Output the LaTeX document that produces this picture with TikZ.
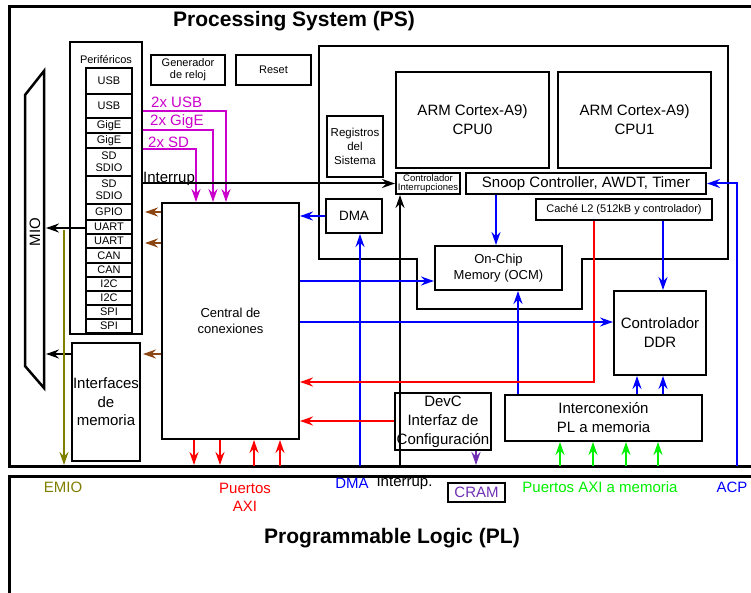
\documentclass[tikz,border=0pt]{standalone}
\usepackage{fontspec}
\setmainfont{Liberation Sans}
\usetikzlibrary{arrows.meta,calc}
\definecolor{blu}{RGB}{0,0,255}
\definecolor{rd}{RGB}{255,0,0}
\definecolor{grn}{RGB}{0,240,0}
\definecolor{mag}{RGB}{204,0,204}
\definecolor{brn}{RGB}{140,70,20}
\definecolor{olv}{RGB}{128,128,0}
\definecolor{pur}{RGB}{112,48,180}
\newcommand\fzT{\fontsize{21}{25}\selectfont\bfseries}
\newcommand\fzM{\fontsize{15}{19}\selectfont}
\newcommand\fzC{\fontsize{13}{16}\selectfont}
\newcommand\fzS{\fontsize{11}{12}\selectfont}
\newcommand\fzX{\fontsize{9.5}{9}\selectfont}
\begin{document}
\begin{tikzpicture}[x=1pt,y=-1pt,
  bx/.style={draw,line width=2pt,fill=white,inner sep=0pt,align=center},
  cell/.style={bx,minimum width=46pt,font=\fzS},
  arr/.style={line width=2pt,-{Stealth[length=13pt,width=9pt,inset=4.5pt]}},
  lbl/.style={inner sep=0pt,align=center,font=\fzM}]
\useasboundingbox (0,0) rectangle (751,593);
\clip (0,0) rectangle (751,593);
\fill[white] (0,0) rectangle (751,593);
% frames
\draw[line width=3pt] (765,7) -- (9,7) -- (9,466) -- (765,466);
\draw[line width=3pt] (765,476) -- (9,476) -- (9,605);
\node[lbl,font=\fzT] (pstitle) at (294,21) {Processing System (PS)};
\node[lbl,font=\fzT] (pltitle) at (392,538) {Programmable Logic (PL)};
% CPU region
\draw[line width=2pt] (319,46) -- (728,46) -- (728,259) -- (582,259) -- (582,309) -- (417,309) -- (417,259) -- (319,259) -- cycle;
% MIO
\draw[line width=2.5pt] (25,95) -- (44,71) -- (44,388) -- (25,366) -- cycle;
\node[lbl,rotate=90,font=\fzM] (mio) at (35,232) {MIO};
% peripherals
\node[bx,minimum width=72pt,minimum height=292pt] (peri) at (106,188) {};
\node[lbl,font=\fzS] (perilbl) at (106,60) {Periféricos};
\foreach \n/\ya/\yb/\t in {1/68/94/USB,2/94/118/USB,3/118/133/GigE,4/133/148/GigE,5/148/176/{SD\\SDIO},6/176/204/{SD\\SDIO},7/204/220/GPIO,8/220/234/UART,9/234/248/UART,10/248/263/CAN,11/263/277/CAN,12/277/291/I2C,13/291/305/I2C,14/305/319/SPI,15/319/333/SPI}
  \node[cell,minimum height={\yb-\ya}] (c\n) at (109,{(\ya+\yb)/2}) {\t};
% boxes
\node[bx,font=\fzS,minimum width=74pt,minimum height=30pt] (gen) at (188,70) {Generador\\de reloj};
\node[bx,font=\fzS,minimum width=75pt,minimum height=30pt] (reset) at (273.5,70) {Reset};
\node[bx,font=\fontsize{11.5}{14}\selectfont,minimum width=56pt,minimum height=61pt] (reg) at (355,146.5) {Registros\\del\\Sistema};
\node[bx,font=\fzM,minimum width=153pt,minimum height=96pt] (cpu0) at (472.5,120) {ARM Cortex-A9)\\CPU0};
\node[bx,font=\fzM,minimum width=153pt,minimum height=96pt] (cpu1) at (634.5,120) {ARM Cortex-A9)\\CPU1};
\node[bx,font=\fzX,minimum width=64pt,minimum height=21pt] (ci) at (428,183.5) {Controlador\\Interrupciones};
\node[bx,font=\fzM,minimum width=240pt,minimum height=21pt] (snoop) at (586,183.5) {Snoop Controller, AWDT, Timer};
\node[bx,font=\fzS,minimum width=176pt,minimum height=21pt] (cache) at (624,209.5) {Caché L2 (512kB y controlador)};
\node[bx,font=\fontsize{13.5}{16}\selectfont,minimum width=56pt,minimum height=34pt] (dma) at (354,216) {DMA};
\node[bx,font=\fzC,minimum width=137pt,minimum height=236pt] (central) at (230.5,321) {Central de\\conexiones};
\node[bx,font=\fontsize{15}{18.5}\selectfont,minimum width=68pt,minimum height=118pt] (iface) at (106,402) {Interfaces\\de\\memoria};
\node[bx,font=\fzC,minimum width=127pt,minimum height=44pt] (ocm) at (498.5,268) {On-Chip\\Memory (OCM)};
\node[bx,font=\fzM,minimum width=92pt,minimum height=84pt] (ddr) at (660,333) {Controlador\\DDR};
\node[bx,font=\fzM,minimum width=197pt,minimum height=46pt] (ipl) at (603.5,418) {Interconexión\\PL a memoria};
\node[bx,font=\fzM,minimum width=96pt,minimum height=57pt] (devc) at (443,421.5) {DevC\\Interfaz de\\Configuración};
\node[bx,font=\fzM,text=pur,minimum width=57pt,minimum height=19pt] (cram) at (476.5,492.5) {CRAM};
% labels
\node[lbl,text=mag,anchor=west] (lusb) at (151,102) {2x USB};
\node[lbl,text=mag,anchor=west] (lgig) at (150,122) {2x GigE};
\node[lbl,text=mag,anchor=west] (lsd) at (148,142) {2x SD};
\node[lbl,anchor=west] (lint) at (143,179) {Interrup};
\node[lbl,text=olv] (lemio) at (63,487) {EMIO};
\node[lbl,text=rd,font=\fontsize{15}{18}\selectfont] (laxi) at (245,497) {Puertos\\AXI};
\node[lbl,text=blu] (ldma) at (352,483) {DMA};
\node[lbl] (lintb) at (404.5,483) {Interrup.};
\node[lbl,text=grn] (lpam) at (600,487) {Puertos AXI a memoria};
\node[lbl,text=blu] (lacp) at (732,487) {ACP};
% coordinates
\coordinate (pr) at ($(peri.east)+(2,0)$);
\coordinate (ir) at ($(iface.east)+(2,0)$);
\coordinate (mioA) at (46,228);
\coordinate (mioB) at (46,354);
\coordinate (emioT) at (64,230);
\coordinate (emioB) at (64,465);
\coordinate (mU) at (226,0);
\coordinate (mG) at (213,0);
\coordinate (mS) at (196,0);
\coordinate (dmaP) at (360,466);
\coordinate (intP) at (400,466);
\coordinate (sx) at (496,0);
\coordinate (ox) at (518,0);
\coordinate (cx) at (663,0);
\coordinate (dx) at (637,0);
\coordinate (rx) at (594,382);
\coordinate (o1) at (0,281);
\coordinate (d1) at (0,322);
\coordinate (dv) at (0,421);
\coordinate (pv) at (476,465);
\coordinate (acp) at (737,466);
% connectors
\draw[arr] (c8.west |- mioA) -- (mioA);
\draw[arr] (iface.west |- mioB) -- (mioB);
\draw[arr,olv] (emioT) -- (emioB);
\draw[arr,brn] (central.west |- 0,212) -- (pr |- 0,212);
\draw[arr,brn] (central.west |- 0,243) -- (pr |- 0,243);
\draw[arr,brn] (central.west |- 0,354) -- (ir |- 0,354);
\draw[arr,mag] (peri.east |- 0,111) -| (mU |- central.north);
\draw[arr,mag] (peri.east |- 0,130) -| (mG |- central.north);
\draw[arr,mag] (peri.east |- 0,149) -| (mS |- central.north);
\draw[arr] (peri.east |- ci.west) -- (ci.west);
\draw[arr,blu] (dma.west) -- (central.east |- dma.west);
\draw[arr,blu] (dmaP) -- (dmaP |- dma.south);
\draw[arr] (intP) -- (intP |- ci.south);
\draw[arr,blu] (sx |- snoop.south) -- (sx |- ocm.north);
\draw[arr,blu] (ox |- ipl.north) -- (ox |- ocm.south);
\draw[arr,blu] (cx |- cache.south) -- (cx |- ddr.north);
\draw[arr,rd] (rx |- cache.south) -- (rx) -- (central.east |- rx);
\draw[arr,blu] (central.east |- o1) -- (ocm.west |- o1);
\draw[arr,blu] (central.east |- d1) -- (ddr.west |- d1);
\draw[arr,rd] (devc.west |- dv) -- (central.east |- dv);
\draw[arr,blu] (dx |- ipl.north) -- (dx |- ddr.south);
\draw[arr,blu] (cx |- ipl.north) -- (cx |- ddr.south);
\foreach \x in {560,593,626,658} {
  \coordinate (g\x) at (\x,466);
  \draw[arr,grn] (g\x) -- (g\x |- ipl.south);
}
\foreach \x in {194,220} {
  \coordinate (r\x) at (\x,465);
  \draw[arr,rd] (r\x |- central.south) -- (r\x);
}
\foreach \x in {254,280} {
  \coordinate (r\x) at (\x,466);
  \draw[arr,rd] (r\x) -- (r\x |- central.south);
}
\draw[arr,pur] (pv |- devc.south) -- (pv);
\draw[arr,blu] (acp) |- (snoop.east);
\end{tikzpicture}
\end{document}
